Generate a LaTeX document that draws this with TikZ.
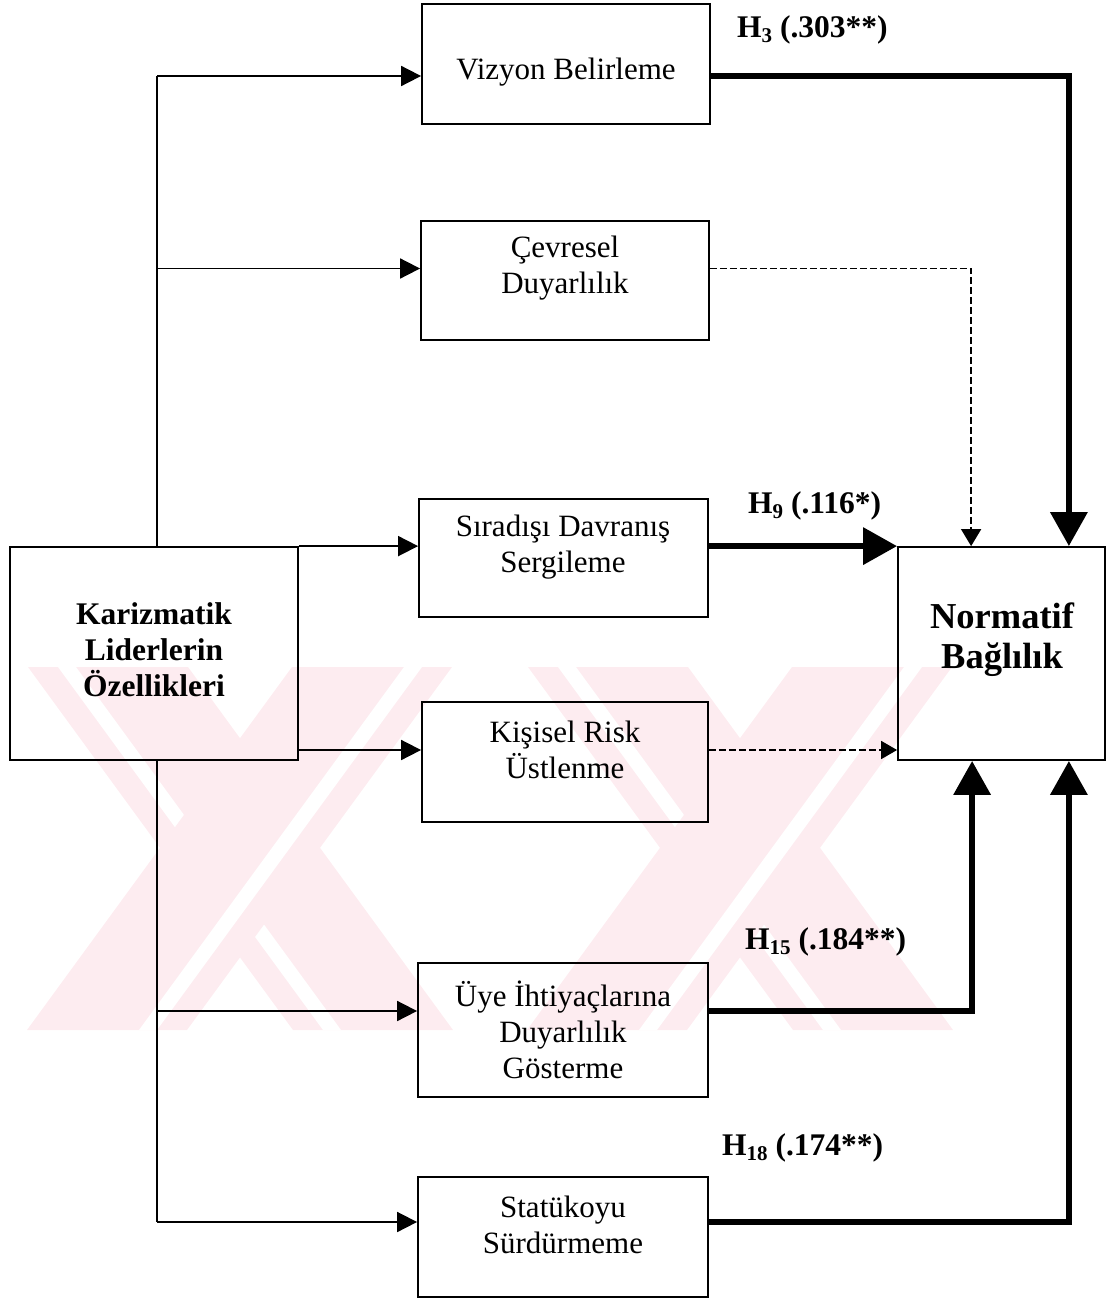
\documentclass[tikz,border=0pt]{standalone}
\usepackage{fontspec}
\setmainfont{Liberation Serif}
\usetikzlibrary{arrows.meta,calc}
\definecolor{wm}{RGB}{253,236,240}
\newcommand{\Hs}[1]{\raisebox{-5pt}{\fontsize{21}{21}\selectfont #1}}
\begin{document}
\begin{tikzpicture}[x=1pt,y=-1pt,
  box/.style={draw,line width=1.8pt,inner sep=0pt},
  txt/.style={font=\fontsize{31}{36}\selectfont,align=center,inner sep=0pt},
  btxt/.style={font=\fontsize{31.5}{36}\selectfont\bfseries,align=center,inner sep=0pt},
  ntxt/.style={font=\fontsize{36.5}{40}\selectfont\bfseries,align=center,inner sep=0pt},
  lab/.style={font=\fontsize{31.5}{36}\selectfont\bfseries,inner sep=0pt},
  ln/.style={line width=1.8pt},
  arr/.style={line width=1.8pt,-{Triangle[length=20pt,width=20pt]}},
  dsh/.style={line width=1.6pt,dash pattern=on 7pt off 3pt,-{Triangle[length=17pt,width=20pt]}},
  dshb/.style={line width=1.6pt,dash pattern=on 7pt off 3pt,-{Triangle[length=16pt,width=18pt]}},
  strong/.style={line width=6.5pt,-{Triangle[length=34pt,width=36pt]}}]
\useasboundingbox (0,0) rectangle (1107,1298);
% watermark (faint)
\begin{scope}
\clip (12,667) rectangle (1030,1030);
% "\" bands: top-left x, width 160, bottom shift +265
\foreach \a in {28,528}{
  \fill[wm] (\a,667) -- (\a+160,667) -- (\a+425,1030) -- (\a+265,1030) -- cycle;
  \fill[white] (\a+30,667) -- (\a+48,667) -- (\a+313,1030) -- (\a+295,1030) -- cycle;}
% "/" bands: top-left x, width 160, bottom shift -265
\foreach \a in {292,792}{
  \fill[wm] (\a,667) -- (\a+160,667) -- (\a-105,1030) -- (\a-265,1030) -- cycle;
  \fill[white] (\a+112,667) -- (\a+130,667) -- (\a-135,1030) -- (\a-153,1030) -- cycle;}
\end{scope}
% boxes
\node[box,minimum width=288pt,minimum height=120pt] (viz) at (566,64) {};
\node[box,minimum width=288pt,minimum height=119pt] (cev) at (565,280.5) {};
\node[box,minimum width=289pt,minimum height=118pt] (sir) at (563.5,558) {};
\node[box,minimum width=288pt,minimum height=213pt] (K) at (154,653.5) {};
\node[box,minimum width=207pt,minimum height=213pt] (nor) at (1001.5,653.5) {};
\node[box,minimum width=286pt,minimum height=120pt] (kis) at (565,762) {};
\node[box,minimum width=290pt,minimum height=134pt] (uye) at (563,1030) {};
\node[box,minimum width=290pt,minimum height=120pt] (sta) at (563,1237) {};
% texts
\node[txt] (vizT) at (566,72) {Vizyon Belirleme};
\node[txt] (cevT) at (565,268) {Çevresel\\Duyarlılık};
\node[txt] (sirT) at (563,547) {Sıradışı Davranış\\Sergileme};
\node[btxt] (KT) at (154,650) {Karizmatik\\Liderlerin\\Özellikleri};
\node[ntxt] (norT) at (1002,640) {Normatif\\Bağlılık};
\node[txt] (kisT) at (565,750) {Kişisel Risk\\Üstlenme};
\node[txt] (uyeT) at (563,1030) {Üye İhtiyaçlarına\\Duyarlılık\\Gösterme};
\node[txt] (staT) at (563,1225) {Statükoyu\\Sürdürmeme};
% labels
\node[lab,anchor=base west] (h3) at (737,38) {H\Hs{3} (.303**)};
\node[lab,anchor=base west] (h9) at (748,513) {H\Hs{9} (.116*)};
\node[lab,anchor=base west] (h15) at (745,949) {H\Hs{15} (.184**)};
\node[lab,anchor=base west] (h18) at (722,1155) {H\Hs{18} (.174**)};
% coordinates
\coordinate (vizin) at ($(viz.west)+(0,12)$);
\coordinate (cevin) at ($(cev.west)+(0,-12)$);
\coordinate (kisin) at ($(kis.west)+(0,-12)$);
\coordinate (uyein) at ($(uye.west)+(0,-19)$);
\coordinate (stain) at ($(sta.west)+(0,-15)$);
\coordinate (ktop) at ($(K.north)+(3,0)$);
\coordinate (kbot) at ($(K.south)+(3,0)$);
\coordinate (nA) at ($(nor.north west)+(74,0)$);
\coordinate (nB) at ($(nor.north east)+(-37,0)$);
\coordinate (sA) at ($(nor.south west)+(75,0)$);
\coordinate (sB) at ($(nor.south east)+(-37,0)$);
% inputs
\draw[ln] (ktop) -- (ktop |- vizin);
\draw[arr] (ktop |- vizin) -- (vizin);
\draw[arr] (ktop |- cevin) -- (cevin);
\draw[arr] (K.north east) -- (sir.west |- K.north east);
\draw[arr] (K.east |- kisin) -- (kisin);
\draw[ln] (kbot) -- (kbot |- stain);
\draw[arr] (kbot |- uyein) -- (uyein);
\draw[arr] (kbot |- stain) -- (stain);
% outputs
\draw[strong] (viz.east |- vizin) -| (nB);
\draw[dsh] (cev.east |- cevin) -| (nA);
\draw[strong] (sir.east |- nor.north west) -- (nor.north west);
\draw[dshb] (kis.east |- kisin) -- (nor.west |- kisin);
\draw[strong] (uye.east |- uyein) -| (sA);
\draw[strong] (sta.east |- stain) -| (sB);
\end{tikzpicture}
\end{document}
